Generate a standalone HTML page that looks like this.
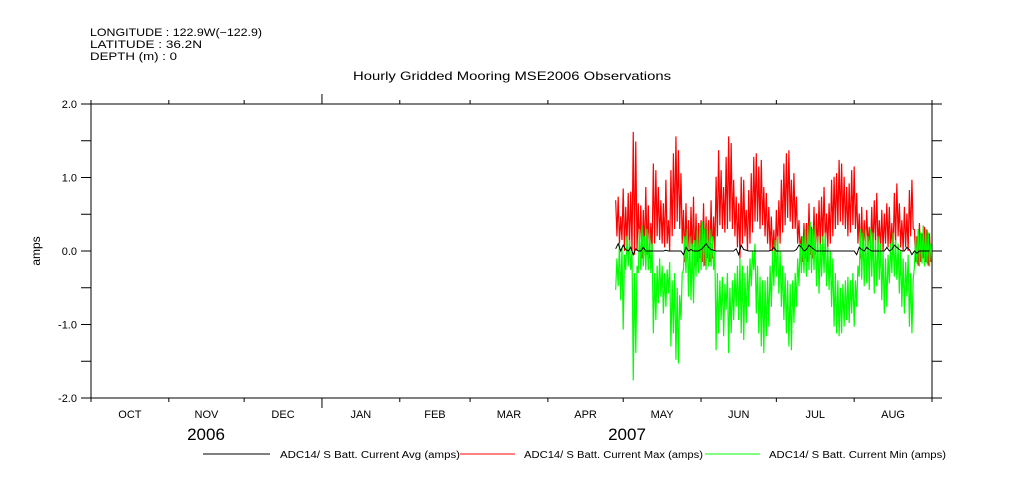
<!DOCTYPE html>
<html><head><meta charset="utf-8"><style>
body{margin:0;background:#fff;}
svg{display:block;font-family:"Liberation Sans",sans-serif;}
</style></head><body>
<svg id="chart" width="1009" height="504" viewBox="0 0 1009 504">
<g font-size="11" fill="#000">
<text x="90" y="36" textLength="172" lengthAdjust="spacingAndGlyphs">LONGITUDE : 122.9W(−122.9)</text>
<text x="90" y="48" textLength="112" lengthAdjust="spacingAndGlyphs">LATITUDE : 36.2N</text>
<text x="90" y="60" textLength="87" lengthAdjust="spacingAndGlyphs">DEPTH (m) : 0</text>
</g>
<text x="353" y="80" textLength="318" lengthAdjust="spacingAndGlyphs" font-size="12">Hourly Gridded Mooring MSE2006 Observations</text>
<text x="40" y="251" text-anchor="middle" font-size="12" transform="rotate(-90 40 251)">amps</text>
<g id="axes"></g>
<g id="series"></g>
<g font-size="10">
<line x1="203" y1="454" x2="270" y2="454" stroke="#000"/>
<text x="280" y="458" textLength="180" lengthAdjust="spacingAndGlyphs">ADC14/ S Batt. Current Avg (amps)</text>
<line x1="460" y1="454" x2="515" y2="454" stroke="#f00"/>
<text x="524" y="458" textLength="179" lengthAdjust="spacingAndGlyphs">ADC14/ S Batt. Current Max (amps)</text>
<line x1="705" y1="454" x2="760" y2="454" stroke="#0f0"/>
<text x="769" y="458" textLength="177" lengthAdjust="spacingAndGlyphs">ADC14/ S Batt. Current Min (amps)</text>
</g>
</svg>
<script>
const monthLabels=["OCT","NOV","DEC","JAN","FEB","MAR","APR","MAY","JUN","JUL","AUG"];
const monthLengths=[31,30,31,31,28,31,30,31,30,31,31];
const yearLabels=["2006","2007"];
const yTicks=[-2.0,-1.5,-1.0,-0.5,0.0,0.5,1.0,1.5,2.0];
const yLabels=["-2.0","","-1.0","","0.0","","1.0","","2.0"];
const startDay=209;
const maxHigh=[0.69,0.74,0.47,0.85,0.60,0.79,0.81,1.62,1.49,0.65,0.62,0.56,0.87,0.62,0.38,1.19,1.10,0.87,0.69,0.65,0.97,0.42,1.10,1.33,1.56,1.37,1.06,0.56,0.65,0.42,0.60,0.74,0.51,0.38,0.42,0.65,0.47,0.42,0.69,0.47,1.01,1.37,1.10,0.87,1.28,1.56,1.47,0.97,0.74,0.65,1.01,0.97,0.56,0.83,1.06,1.28,1.33,1.15,1.24,0.87,0.79,0.60,0.47,0.29,0.56,0.69,0.97,1.19,1.33,1.37,0.97,1.06,0.74,0.42,0.20,0.38,0.38,0.65,0.33,0.60,0.51,0.69,0.74,0.87,0.51,0.65,0.97,1.01,1.06,1.24,1.19,1.01,0.87,0.92,1.10,1.15,0.79,0.51,0.60,0.42,0.56,0.33,0.60,0.69,0.79,0.42,0.56,0.51,0.65,0.60,0.38,0.79,0.92,0.65,0.42,0.60,0.51,0.83,0.97,0.29,0.20,0.38,0.24,0.33,0.29,0.24];
const maxLow=[0.20,0.10,0.15,0.00,0.10,0.05,0.00,-0.05,0.00,0.00,-0.10,0.00,-0.05,-0.10,0.00,0.10,0.20,0.15,0.10,0.05,0.10,0.00,0.20,0.30,0.40,0.30,0.10,-0.15,-0.10,-0.15,-0.10,-0.20,-0.15,-0.10,-0.15,-0.20,-0.10,-0.15,-0.10,0.00,0.20,0.35,0.30,0.25,0.30,0.40,0.30,0.20,0.05,-0.10,0.10,0.20,0.00,0.10,0.25,0.40,0.40,0.30,0.35,0.20,0.10,0.00,-0.05,-0.15,0.00,0.10,0.25,0.35,0.45,0.40,0.30,0.30,0.10,0.00,-0.15,-0.10,-0.15,-0.05,-0.10,-0.05,0.00,0.05,0.10,0.10,0.05,0.10,0.20,0.30,0.35,0.40,0.35,0.30,0.20,0.25,0.35,0.30,0.10,-0.10,-0.05,0.00,0.05,-0.05,0.00,0.10,0.05,0.00,0.00,0.10,0.05,0.00,-0.05,0.10,0.20,0.05,0.00,0.05,0.00,0.20,0.30,-0.15,-0.20,-0.15,-0.10,-0.15,-0.20,-0.15];
const minLow=[-0.53,-0.48,-0.67,-1.07,-0.26,-0.21,-0.26,-1.76,-1.39,-0.30,-0.26,-0.21,-0.26,-0.26,-0.30,-1.12,-0.94,-0.71,-0.62,-0.85,-0.76,-0.58,-1.30,-1.12,-1.48,-1.53,-0.94,-0.26,-0.30,-0.62,-0.67,-0.71,-0.35,-0.30,-0.26,-0.21,-0.26,-0.21,-0.21,-0.26,-1.35,-1.12,-0.94,-1.16,-0.80,-1.39,-1.12,-0.94,-0.76,-0.94,-1.12,-1.21,-0.98,-0.76,-0.48,-0.26,-0.85,-1.12,-1.30,-1.39,-1.16,-1.03,-0.76,-0.48,-0.35,-0.58,-0.76,-0.94,-1.12,-1.30,-1.35,-0.98,-0.76,-0.48,-0.30,-0.30,-0.35,-0.26,-0.30,-0.26,-0.48,-0.58,-0.35,-0.30,-0.48,-0.53,-0.76,-1.03,-1.12,-1.16,-1.12,-1.03,-0.94,-0.98,-0.85,-1.03,-0.76,-0.35,-0.39,-0.48,-0.44,-0.53,-0.35,-0.58,-0.48,-0.39,-0.67,-0.85,-0.76,-0.44,-0.30,-0.35,-0.39,-0.58,-0.76,-0.85,-0.62,-1.03,-1.12,-0.21,-0.17,-0.21,-0.17,-0.21,-0.17,-0.21];
const minHigh=[-0.10,0.10,0.05,-0.05,0.20,0.15,0.00,-0.30,-0.20,0.30,0.35,0.20,0.30,0.25,0.10,-0.30,-0.20,-0.10,-0.20,-0.30,-0.25,-0.15,-0.40,-0.30,-0.50,-0.60,-0.30,0.20,0.30,0.20,0.10,0.15,0.30,0.35,0.40,0.30,0.35,0.30,0.20,0.00,-0.30,-0.40,-0.35,-0.45,-0.30,-0.50,-0.40,-0.30,-0.20,-0.10,-0.20,-0.30,-0.20,-0.10,0.00,0.10,-0.20,-0.35,-0.40,-0.40,-0.35,-0.20,0.00,0.15,0.20,0.00,-0.20,-0.30,-0.40,-0.45,-0.40,-0.30,-0.10,0.10,0.20,0.30,0.35,0.40,0.30,0.35,0.20,0.10,0.20,0.25,0.05,0.00,-0.10,-0.30,-0.40,-0.50,-0.45,-0.40,-0.35,-0.40,-0.30,-0.40,-0.20,0.30,0.25,0.30,0.20,0.30,0.25,0.15,0.20,0.10,0.00,-0.10,-0.05,0.10,0.25,0.15,0.10,0.00,-0.10,-0.15,-0.05,-0.30,-0.40,0.20,0.30,0.25,0.35,0.30,0.25,0.10];
const avgVals=[0.03,0.10,0.00,0.08,0.02,0.00,0.05,-0.05,0.03,0.00,0.00,0.05,0.00,0.00,0.00,0.00,0.00,0.00,0.00,0.00,0.01,0.00,0.00,0.00,0.00,0.00,0.00,-0.05,0.05,0.00,0.02,0.00,0.00,0.00,0.02,0.05,0.10,0.05,0.02,0.01,0.00,0.00,0.00,0.00,0.00,0.00,0.00,0.00,0.03,-0.05,0.08,0.02,0.01,0.00,0.00,0.00,0.00,0.00,0.00,0.00,0.00,0.00,0.01,0.05,0.00,0.00,0.00,0.00,0.00,0.00,0.00,0.00,0.02,0.08,0.05,0.00,0.02,0.08,0.05,0.02,0.00,0.00,0.00,0.00,0.00,0.00,0.00,0.00,0.00,0.00,0.00,0.00,0.00,0.00,0.00,0.00,-0.05,0.05,0.02,0.00,0.05,0.02,0.00,0.00,0.00,0.00,0.00,0.00,0.05,0.00,0.02,0.08,0.05,0.02,0.00,0.00,0.05,0.02,-0.05,0.00,-0.03,0.00,0.00,0.00,0.00,0.00];

const NS="http://www.w3.org/2000/svg";
const X0=91,X1=932,Y0=104,Y1=398,TOTAL=335;
function xScale(d){return X0+(d)*(X1-X0)/TOTAL;}
function yScale(v){return Y1-(v+2)*(Y1-Y0)/4;}
function mk(tag,attrs,parent){const e=document.createElementNS(NS,tag);for(const k in attrs)e.setAttribute(k,attrs[k]);parent.appendChild(e);return e;}
const axes=document.getElementById('axes');
const frame=mk('rect',{x:X0,y:Y0,width:X1-X0,height:Y1-Y0,fill:'none',stroke:'#000','stroke-width':1},axes);


yTicks.forEach((v,i)=>{
  const y=yScale(v);
  const t=mk('line',{x1:X0-10,y1:y,x2:X0,y2:y,stroke:'#000'},axes);
  
  
  const t2=mk('line',{x1:X1,y1:y,x2:X1+10,y2:y,stroke:'#000'},axes);
  
  
  if(yLabels[i]){
    const tx=mk('text',{x:X0-14,y:y+4,'text-anchor':'end','font-size':11},axes);
    tx.textContent=yLabels[i];
    
    
  }
});
let d=0;
for(let i=0;i<=monthLabels.length;i++){
  const x=xScale(d);
  const major=(i===3);
  const len=major?10:4;
  const a=mk('line',{x1:x,y1:Y0-len,x2:x,y2:Y0,stroke:'#000'},axes);
  
  
  const b=mk('line',{x1:x,y1:Y1,x2:x,y2:Y1+len,stroke:'#000'},axes);
  
  
  if(i<monthLabels.length){
    const mid=xScale(d+monthLengths[i]/2);
    const tx=mk('text',{x:mid,y:418,'text-anchor':'middle','font-size':11},axes);
    tx.textContent=monthLabels[i];
    
    
    d+=monthLengths[i];
  }
}
[[206,yearLabels[0]],[627,yearLabels[1]]].forEach(p=>{
  const tx=mk('text',{x:p[0],y:440,'text-anchor':'middle','font-size':17},axes);
  tx.textContent=p[1];
  
  
});
const series=document.getElementById('series');
function zig(hi,lo){const pts=[];for(let i=0;i<hi.length;i++){pts.push(xScale(startDay+i).toFixed(2)+','+yScale(hi[i]).toFixed(2));pts.push(xScale(startDay+i+0.5).toFixed(2)+','+yScale(lo[i]).toFixed(2));}return pts.join(' ');}
const red=mk('polyline',{points:zig(maxHigh,maxLow),fill:'none',stroke:'#f00','stroke-width':1.2},series);


const green=mk('polyline',{points:zig(minLow,minHigh),fill:'none',stroke:'#0f0','stroke-width':1.2},series);


const avgPts=avgVals.map((v,i)=>xScale(startDay+i).toFixed(2)+','+yScale(v).toFixed(2)).join(' ');
const blk=mk('polyline',{points:avgPts,fill:'none',stroke:'#000','stroke-width':1},series);


</script>
</body></html>
